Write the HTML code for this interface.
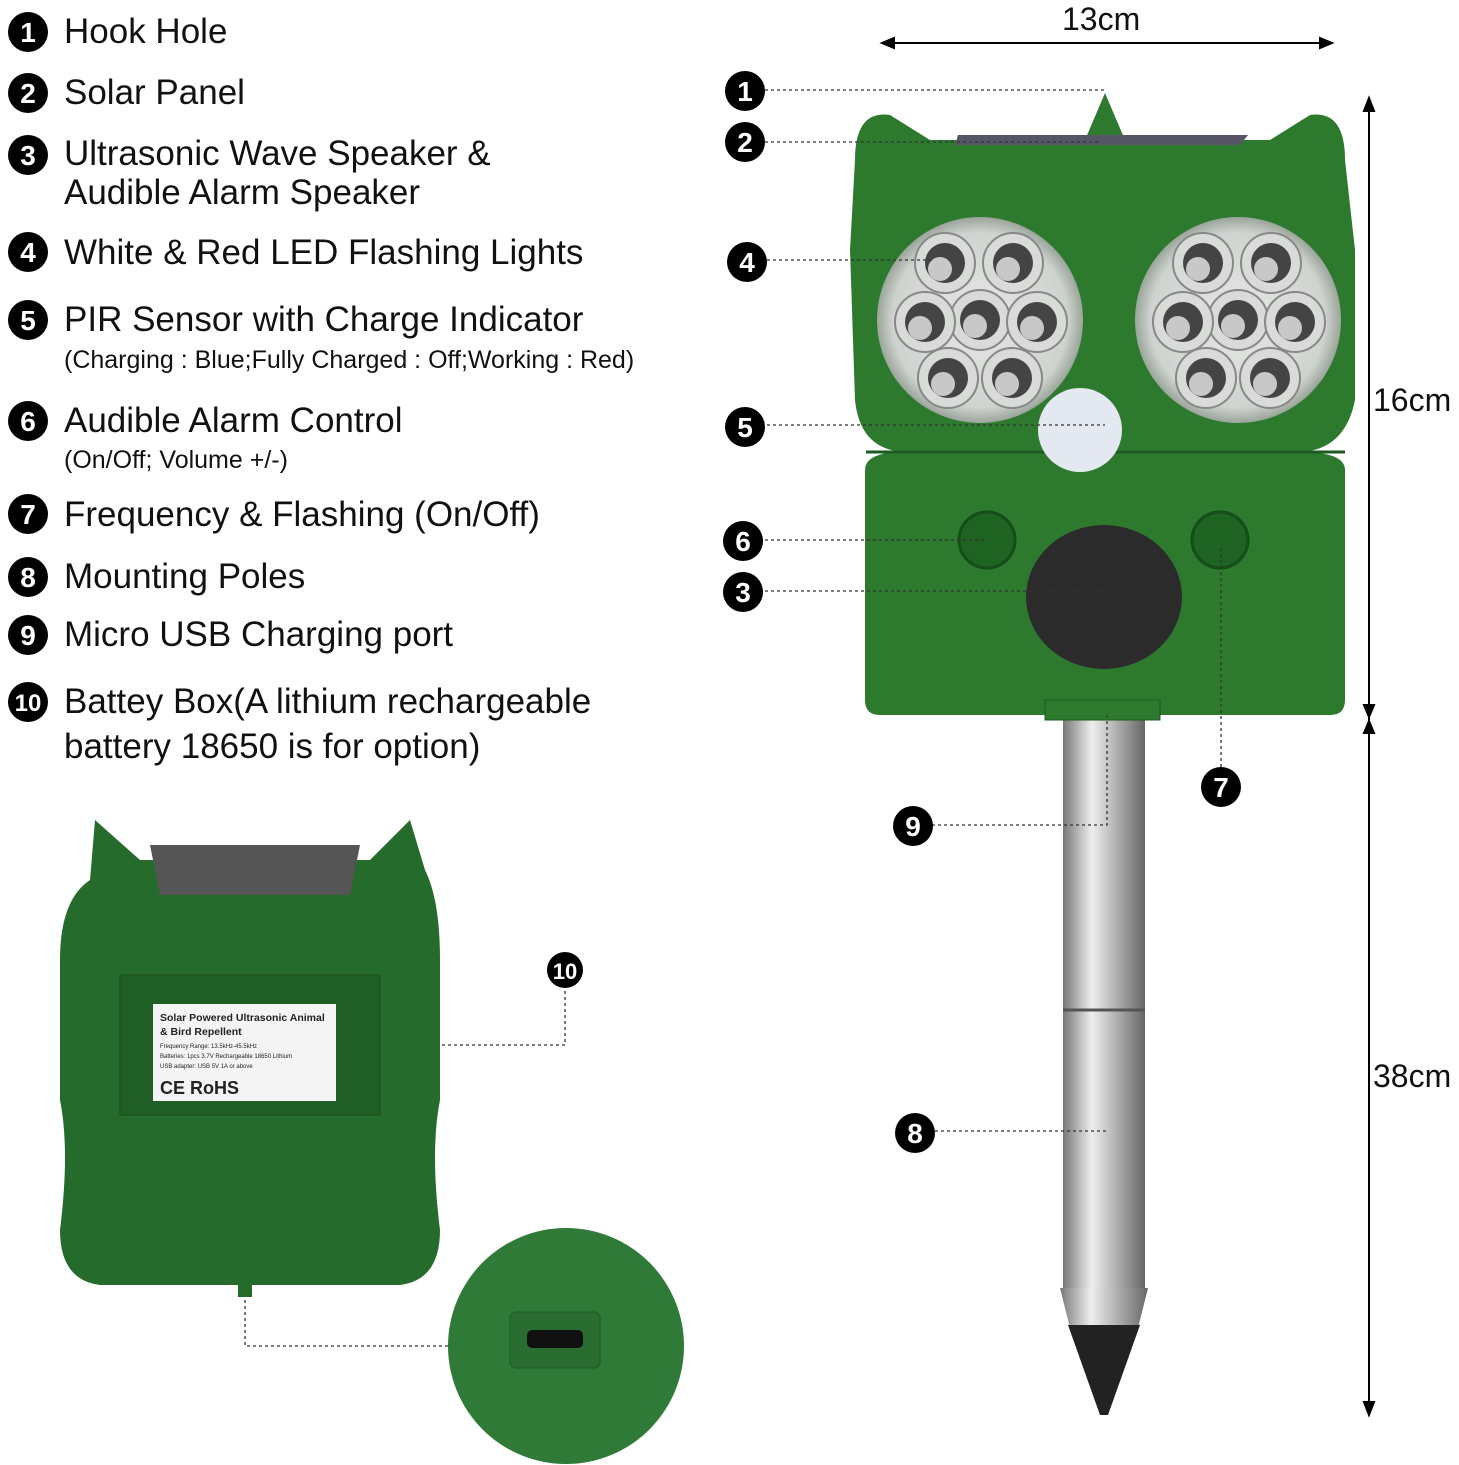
<!DOCTYPE html>
<html><head><meta charset="utf-8"><style>
body{margin:0;background:#fff;width:1459px;height:1465px;overflow:hidden;font-family:"Liberation Sans","DejaVu Sans",sans-serif;}
svg{position:absolute;left:0;top:0}
</style></head><body>
<svg width="1459" height="1465" viewBox="0 0 1459 1465" xmlns="http://www.w3.org/2000/svg">
<defs>
<linearGradient id="pole" x1="0" x2="1"><stop offset="0" stop-color="#777"/><stop offset=".35" stop-color="#eee"/><stop offset=".6" stop-color="#bbb"/><stop offset="1" stop-color="#666"/></linearGradient>
<radialGradient id="eye" cx=".5" cy=".5" r=".5"><stop offset="0" stop-color="#e8e8e8"/><stop offset=".85" stop-color="#cfd3cf"/><stop offset="1" stop-color="#9aa59a"/></radialGradient>
<g id="led"><circle r="30" fill="#d8dbd8" stroke="#888" stroke-width="2"/><circle r="20" fill="#444"/><circle r="12" cx="-5" cy="6" fill="#c8c8c8"/></g>
</defs>
<g font-size="35" fill="#111">
<g fill="#000"><circle cx="28" cy="32" r="20"/><circle cx="28" cy="93" r="20"/><circle cx="28" cy="155" r="20"/><circle cx="28" cy="252" r="20"/><circle cx="28" cy="320" r="20"/><circle cx="28" cy="421" r="20"/><circle cx="28" cy="514" r="20"/><circle cx="28" cy="577" r="20"/><circle cx="28" cy="635" r="20"/><circle cx="28" cy="702" r="20"/></g>
<g fill="#fff" font-weight="bold" font-size="28" text-anchor="middle"><text x="28" y="42">1</text><text x="28" y="103">2</text><text x="28" y="165">3</text><text x="28" y="262">4</text><text x="28" y="330">5</text><text x="28" y="431">6</text><text x="28" y="524">7</text><text x="28" y="587">8</text><text x="28" y="645">9</text><text x="28" y="711" font-size="24">10</text></g>
<text x="64" y="43">Hook Hole</text>
<text x="64" y="104">Solar Panel</text>
<text x="64" y="165">Ultrasonic Wave Speaker &amp;</text>
<text x="64" y="204">Audible Alarm Speaker</text>
<text x="64" y="264">White &amp; Red LED Flashing Lights</text>
<text x="64" y="331">PIR Sensor with Charge Indicator</text>
<text x="64" y="368" font-size="25">(Charging : Blue;Fully Charged : Off;Working : Red)</text>
<text x="64" y="432">Audible Alarm Control</text>
<text x="64" y="468" font-size="25">(On/Off; Volume +/-)</text>
<text x="64" y="526">Frequency &amp; Flashing (On/Off)</text>
<text x="64" y="588">Mounting Poles</text>
<text x="64" y="646">Micro USB Charging port</text>
<text x="64" y="713">Battey Box(A lithium rechargeable</text>
<text x="64" y="758">battery 18650 is for option)</text>
<text x="1062" y="30" font-size="32">13cm</text>
<text x="1373" y="411" font-size="32">16cm</text>
<text x="1373" y="1087" font-size="32">38cm</text>
</g>
<!-- dims -->
<g stroke="#000" stroke-width="2" fill="#000">
<line x1="886" y1="43" x2="1328" y2="43"/><path d="M882 43l12-5v10zM1332 43l-12-5v10z"/>
<line x1="1369" y1="104" x2="1369" y2="1410"/><path d="M1369 98l-5 13h10zM1369 1415l-5-13h10zM1369 717l-5-12h10zM1369 721l-5 12h10z"/>
</g>
<!-- pole -->
<rect x="1063" y="715" width="82" height="575" fill="url(#pole)"/>
<line x1="1063" y1="1010" x2="1145" y2="1010" stroke="#555" stroke-width="3"/>
<path d="M1060 1288h88l-10 40h-68z" fill="url(#pole)"/>
<path d="M1068 1325h72l-32 90h-8z" fill="#222"/>
<!-- front body -->
<path d="M1085 140 L1105 93 L1125 140z" fill="#2d7a2f"/>
<path d="M855 160 Q855 110 890 115 L930 140 H1270 L1310 115 Q1345 110 1345 160 L1355 250 L1355 400 Q1345 450 1300 452 H905 Q860 450 855 400 L850 250z" fill="#2d7a2f"/>
<path d="M865 470 Q865 452 905 452 H1300 Q1345 452 1345 470 V700 Q1345 715 1330 715 H880 Q865 715 865 700z" fill="#2d7a2f"/>
<line x1="866" y1="452" x2="1345" y2="452" stroke="#1d5a1f" stroke-width="3"/>
<path d="M958 135h290l-8 10H955z" fill="#556"/>
<circle cx="980" cy="320" r="103" fill="url(#eye)"/>
<circle cx="1238" cy="320" r="103" fill="url(#eye)"/>
<g><use href="#led" x="980" y="320"/><use href="#led" x="945" y="263"/><use href="#led" x="1013" y="263"/><use href="#led" x="925" y="322"/><use href="#led" x="1037" y="322"/><use href="#led" x="948" y="378"/><use href="#led" x="1012" y="378"/></g>
<g><use href="#led" x="1238" y="320"/><use href="#led" x="1203" y="263"/><use href="#led" x="1271" y="263"/><use href="#led" x="1183" y="322"/><use href="#led" x="1295" y="322"/><use href="#led" x="1206" y="378"/><use href="#led" x="1270" y="378"/></g>
<circle cx="1080" cy="430" r="42" fill="#e4e8f0"/>
<circle cx="987" cy="540" r="28" fill="#1f6322" stroke="#154d18" stroke-width="3"/>
<circle cx="1220" cy="540" r="28" fill="#1f6322" stroke="#154d18" stroke-width="3"/>
<ellipse cx="1104" cy="597" rx="78" ry="72" fill="#2b2b2b"/>
<rect x="1045" y="700" width="115" height="20" fill="#2d7a2f" stroke="#1d5a1f"/>
<!-- callouts front -->
<g stroke="#333" stroke-width="1.3" stroke-dasharray="3,3" fill="none">
<line x1="765" y1="90" x2="1105" y2="90"/><line x1="765" y1="142" x2="1100" y2="142"/><line x1="767" y1="260" x2="935" y2="260"/>
<line x1="767" y1="425" x2="1105" y2="425"/><line x1="765" y1="540" x2="985" y2="540"/><line x1="765" y1="591" x2="1105" y2="591"/>
<path d="M932 825H1107V715"/><path d="M1221 767V545"/><line x1="935" y1="1131" x2="1107" y2="1131"/>
<path d="M358 1045H565V990"/><path d="M245 1300V1346H450"/>
</g>
<g fill="#000"><circle cx="745" cy="91" r="20"/><circle cx="745" cy="142" r="20"/><circle cx="747" cy="262" r="20"/><circle cx="745" cy="427" r="20"/><circle cx="743" cy="541" r="20"/><circle cx="743" cy="592" r="20"/><circle cx="1221" cy="787" r="20"/><circle cx="913" cy="826" r="20"/><circle cx="915" cy="1133" r="20"/><circle cx="565" cy="970" r="18"/></g>
<g fill="#fff" font-weight="bold" font-size="28" text-anchor="middle"><text x="745" y="101">1</text><text x="745" y="152">2</text><text x="747" y="272">4</text><text x="745" y="437">5</text><text x="743" y="551">6</text><text x="743" y="602">3</text><text x="1221" y="797">7</text><text x="913" y="836">9</text><text x="915" y="1143">8</text><text x="565" y="979" font-size="22">10</text></g>
<!-- back body -->
<path d="M95 820l45 40h230l40-40 15 50 Q440 900 440 960 V1100 Q430 1150 440 1230 Q440 1280 400 1285 H100 Q60 1280 60 1230 Q70 1150 60 1100 V960 Q60 900 90 880z" fill="#256b2c"/>
<path d="M150 845h210l-10 50H160z" fill="#555"/>
<rect x="120" y="975" width="260" height="140" fill="#1f5f26" stroke="#174d1d"/>
<rect x="153" y="1004" width="183" height="97" fill="#f4f4f4"/>
<g font-size="10.5" font-weight="bold" fill="#222"><text x="160" y="1021">Solar Powered Ultrasonic Animal</text><text x="160" y="1035">&amp; Bird Repellent</text><text x="160" y="1094" font-size="18">CE RoHS</text></g>
<g fill="#222" font-size="6"><text x="160" y="1048">Frequency Range: 13.5kHz-45.5kHz</text><text x="160" y="1058">Batteries: 1pcs 3.7V Rechargeable 18650 Lithium</text><text x="160" y="1068">USB adapter: USB 5V 1A or above</text></g>
<rect x="238" y="1275" width="14" height="22" fill="#256b2c"/>
<!-- inset circle -->
<circle cx="566" cy="1346" r="118" fill="#2f7a36"/>
<rect x="510" y="1312" width="90" height="56" rx="6" fill="#2a6d31" stroke="#1f5926"/>
<rect x="527" y="1330" width="56" height="18" rx="5" fill="#111"/>
</svg>
</body></html>
